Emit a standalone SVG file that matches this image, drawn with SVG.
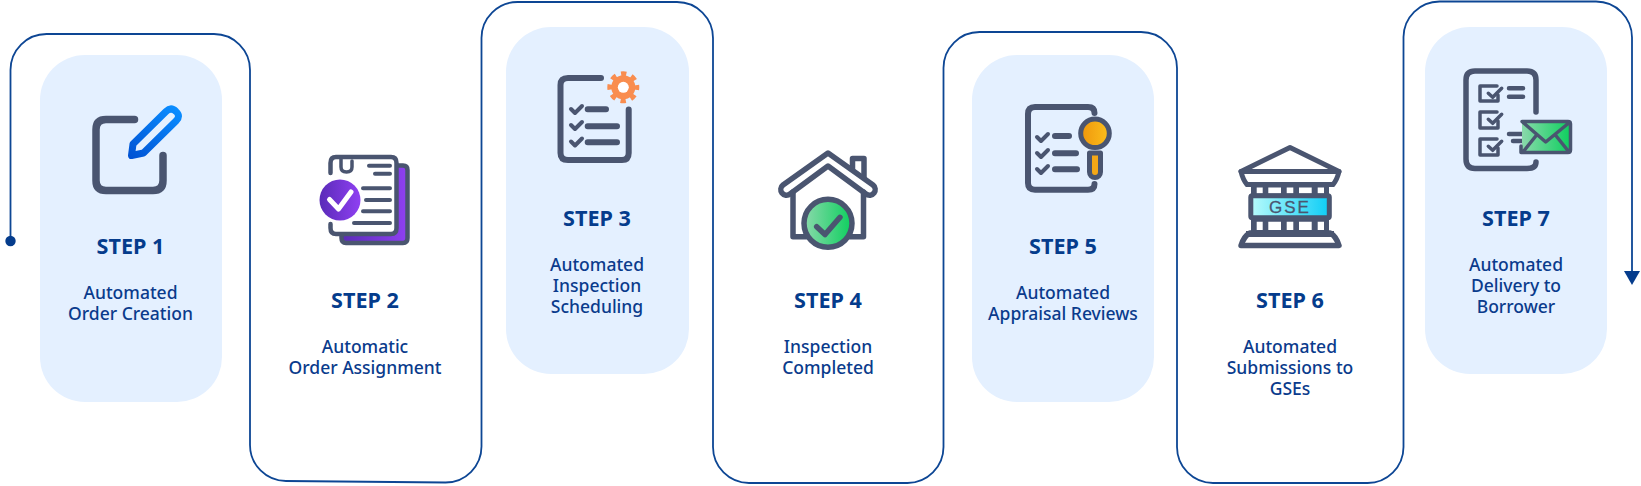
<svg xmlns="http://www.w3.org/2000/svg" width="1641" height="486" viewBox="0 0 1641 486">
<style>
.panel{fill:#e4f0ff}
.st{font-family:"Noto Sans","Open Sans",sans-serif;font-weight:700;font-size:21.600px;fill:#053c8c;text-anchor:middle}
.bd{font-family:"Noto Sans","Open Sans",sans-serif;font-weight:500;font-size:17.500px;fill:#0a3b8c;text-anchor:middle}
.i{fill:none;stroke:#4a5570;stroke-linecap:round;stroke-linejoin:round}
.conn{fill:none;stroke:#0d4694;stroke-width:1.8}
</style>
<defs>
<marker id="dot" markerUnits="userSpaceOnUse" markerWidth="12" markerHeight="12" refX="6" refY="6" viewBox="0 0 12 12"><circle cx="6" cy="6" r="5.2" fill="#053c8c"/></marker>
<linearGradient id="gBlue" gradientUnits="userSpaceOnUse" x1="170" y1="105" x2="130" y2="160"><stop offset="0" stop-color="#0a8cff"/><stop offset="1" stop-color="#0051d2"/></linearGradient>
<linearGradient id="gPurple" x1="0" y1="0" x2="1" y2="0"><stop offset="0" stop-color="#5a2bb8"/><stop offset="1" stop-color="#8f40f2"/></linearGradient>
<linearGradient id="gGreen" x1="0" y1="0" x2="1" y2="0"><stop offset="0" stop-color="#8ad9ab"/><stop offset="1" stop-color="#0dcf5e"/></linearGradient>
<linearGradient id="gOrange" x1="0" y1="0" x2="1" y2="0"><stop offset="0" stop-color="#ef960c"/><stop offset="1" stop-color="#fbbf1c"/></linearGradient>
<linearGradient id="gCyan" x1="0" y1="0" x2="1" y2="0"><stop offset="0" stop-color="#b8fbfb"/><stop offset="1" stop-color="#0dcdf6"/></linearGradient>
</defs>
<rect width="1641" height="486" fill="#fff"/>
<g id="connectors">
<path class="conn" marker-start="url(#dot)" d="M10.5 241V70A36 36 0 0 1 46.5 34H214A36 36 0 0 1 250 70V445A36 36 0 0 0 286 481L445.5 482.500A36 36 0 0 0 481.500 446V38A36 36 0 0 1 517.500 2H677A36 36 0 0 1 713 38V447A36 36 0 0 0 749 483H907.500A36 36 0 0 0 943.500 447V68A36 36 0 0 1 979.500 32H1141A36 36 0 0 1 1177 68V447A36 36 0 0 0 1213 483H1367A36 36 0 0 0 1403.500 447V37A36 36 0 0 1 1439.500 1.500H1596A36 36 0 0 1 1632 37.500V272"/>
<path d="M1624 271H1640L1632 285Z" fill="#053c8c"/>
</g>
<g id="step1">
<rect class="panel" x="40" y="55" width="182" height="347" rx="45"/>
<path class="i" stroke-width="7.500" d="M134.500 119.500H106Q96 119.500 96 129.500V180.500Q96 190.500 106 190.500H153Q163 190.500 163 180.500V155.500"/>
<path fill="none" stroke="url(#gBlue)" stroke-width="7" stroke-linejoin="round" d="M131.500 155.500L133 144L166 111.500Q171 106.500 176 111.500Q181 116 176 121L143.500 153Z"/>
<text class="st" x="130.500" y="254">STEP 1</text>
<text class="bd" x="130.500" y="299">Automated</text>
<text class="bd" x="130.500" y="320">Order Creation</text>
</g>
<g id="step2">
<path fill="url(#gPurple)" stroke="#4a5570" stroke-width="4.500" stroke-linejoin="round" d="M395 165.500H403Q407.500 165.500 407.500 170V238Q407.500 243 403 243H346Q341.500 243 341.500 238V225Z"/>
<path fill="#fff" d="M330.500 163Q330.500 157 336 157H391Q396.500 157 396.500 163V228Q396.500 234 391 234H336Q330.500 234 330.500 228Z"/>
<path class="i" stroke-width="4.500" d="M330.500 173V163Q330.500 157 336 157H391Q396.500 157 396.500 163V228Q396.500 234 391 234H336Q330.500 234 330.500 228V224"/>
<path class="i" stroke-width="3.500" d="M341 158V167Q341 172 346.500 172Q352 172 352 167V161"/>
<path class="i" stroke-width="4" d="M369 165.700H390M375 173.700H390M363 188.300H390M366 200H390M363 211.300H390M354 223H390"/>
<circle cx="340" cy="200" r="20.500" fill="url(#gPurple)"/>
<path fill="none" stroke="#fff" stroke-width="5" stroke-linecap="round" stroke-linejoin="round" d="M329.500 199.500L338.500 209L351 192"/>
<text class="st" x="365" y="308">STEP 2</text>
<text class="bd" x="365" y="353">Automatic</text>
<text class="bd" x="365" y="374">Order Assignment</text>
</g>
<g id="step3">
<rect class="panel" x="506" y="27" width="183" height="347" rx="45"/>
<path class="i" stroke-width="6" d="M601 78H568Q560.500 78 560.500 85V153Q560.500 160 568 160H622Q628.700 160 628.700 153V109.500"/>
<path class="i" stroke-width="4" d="M571 109L575 113L582 106M571 125L575 129L582 122M571 141.500L575 145.500L582 138.500"/>
<path class="i" stroke-width="6" d="M587.700 109.300H606M587.700 126.300H617M587.700 142.300H617"/>
<circle cx="623.300" cy="87.300" r="12" fill="#f98d4f"/>
<circle cx="623.300" cy="87.300" r="13.500" fill="none" stroke="#f98d4f" stroke-width="5" stroke-dasharray="5.300 5.300" stroke-dashoffset="2.650"/>
<circle cx="623.300" cy="87.300" r="5.500" fill="#fff"/>
<text class="st" x="597" y="226">STEP 3</text>
<text class="bd" x="597" y="271">Automated</text>
<text class="bd" x="597" y="292">Inspection</text>
<text class="bd" x="597" y="313">Scheduling</text>
</g>
<g id="step4">
<path class="i" stroke-width="5.500" d="M852.500 170V158.500H864V184"/>
<path class="i" stroke-width="5.500" style="fill:#fff" d="M828 153L873 185A5.500 5.500 0 0 1 866 194L828 166L790 194A5.500 5.500 0 0 1 783 185Z"/>
<path class="i" stroke-width="5.500" d="M793 192V236.700H806M863.500 192V236.700H850"/>
<circle cx="828" cy="223.300" r="24" fill="url(#gGreen)" stroke="#4a5570" stroke-width="5.500"/>
<path class="i" stroke-width="5.500" d="M816.700 226.700L825 234.500L840 217.300"/>
<text class="st" x="828" y="308">STEP 4</text>
<text class="bd" x="828" y="353">Inspection</text>
<text class="bd" x="828" y="374">Completed</text>
</g>
<g id="step5">
<rect class="panel" x="972" y="55" width="182" height="347" rx="45"/>
<path class="i" stroke-width="6" d="M1094.500 113Q1094.500 107 1088 107H1035Q1028 107 1028 114V183Q1028 189.700 1035 189.700H1088Q1094.500 189.700 1094.500 184"/>
<path class="i" stroke-width="4" d="M1037 137L1041 141L1048 134M1037 153L1041 157L1048 150M1037 169L1041 173L1048 166"/>
<path class="i" stroke-width="6" d="M1055 136H1069M1055 153.300H1076M1055 169.300H1077"/>
<path fill="#f5a817" stroke="#4a5570" stroke-width="5" stroke-linejoin="round" d="M1089.500 153H1100.500V172A5.500 5.500 0 0 1 1089.500 172Z"/>
<circle cx="1095" cy="133.300" r="14.300" fill="url(#gOrange)" stroke="#4a5570" stroke-width="5"/>
<text class="st" x="1063" y="254">STEP 5</text>
<text class="bd" x="1063" y="299">Automated</text>
<text class="bd" x="1063" y="320">Appraisal Reviews</text>
</g>
<g id="step6">
<path class="i" stroke-width="5" d="M1290 147.500L1241 171.500H1339Z"/>
<path class="i" stroke-width="5" style="fill:#fff" d="M1241 171.500Q1243 180 1247 184.500H1333Q1337 180 1339 171.500Z"/>
<rect x="1251" y="186" width="78" height="46" fill="#4a5570"/>
<path fill="#fff" d="M1256.700 187.500h6v6h-6zM1268.300 187.500h12.700v6h-12.700zM1286.700 187.500h6.600v6h-6.600zM1299 187.500h12.700v6h-12.700zM1317.700 187.500h6.300v6h-6.300zM1256.700 221.700h6v8.300h-6zM1268.300 221.700h12.700v8.300h-12.700zM1286.700 221.700h6.600v8.300h-6.600zM1299 221.700h12.700v8.300h-12.700zM1317.700 221.700h6.300v8.300h-6.300z"/>
<rect x="1250.800" y="195.800" width="78.500" height="22" rx="1.500" fill="url(#gCyan)" stroke="#4a5570" stroke-width="5"/>
<text x="1290" y="213" font-family="'Liberation Sans',Arial,sans-serif" font-size="17" font-weight="400" letter-spacing="2" stroke="#4a5570" stroke-width="0.300" fill="#4a5570" text-anchor="middle">GSE</text>
<path class="i" stroke-width="5.500" style="fill:#fff" d="M1250 233H1330Q1336 236 1339 245.500H1241Q1244 236 1250 233Z"/>
<path fill="#4a5570" d="M1246 231H1334V237H1246Z"/>
<text class="st" x="1290" y="308">STEP 6</text>
<text class="bd" x="1290" y="353">Automated</text>
<text class="bd" x="1290" y="374">Submissions to</text>
<text class="bd" x="1290" y="395">GSEs</text>
</g>
<g id="step7">
<rect class="panel" x="1425" y="27" width="182" height="347" rx="45"/>
<path class="i" stroke-width="5.500" d="M1536 112V80Q1536 71 1527 71H1475Q1466 71 1466 80V159Q1466 168.500 1475 168.500H1527Q1536 168.500 1536 162"/>
<path class="i" stroke-width="3.500" d="M1497 86H1480V101H1498V95M1497 112H1480V128H1498V121M1497 139H1480V155H1498V148"/>
<path class="i" stroke-width="3.500" d="M1488.300 93.300L1492.700 97.300L1501.700 88.300M1488.300 119.300L1492.700 123.300L1501.700 114.300M1488.300 146.300L1492.700 150.300L1501.700 141.300"/>
<path class="i" stroke-width="4.500" d="M1509 88.300H1523M1509 96.700H1523M1509 134H1523M1513 141H1522"/>
<path fill="url(#gGreen)" d="M1522 121.500H1568Q1570.500 121.500 1570.500 124V150Q1570.500 152.500 1568 152.500H1522Z"/>
<path class="i" stroke-width="3.500" d="M1521 146V152.500H1568Q1570.500 152.500 1570.500 150V124Q1570.500 121.500 1568 121.500H1522L1545.700 142L1570 122M1523 152L1537 134.500M1569 152L1555 134.500"/>
<text class="st" x="1516" y="226">STEP 7</text>
<text class="bd" x="1516" y="271">Automated</text>
<text class="bd" x="1516" y="292">Delivery to</text>
<text class="bd" x="1516" y="313">Borrower</text>
</g>
</svg>
